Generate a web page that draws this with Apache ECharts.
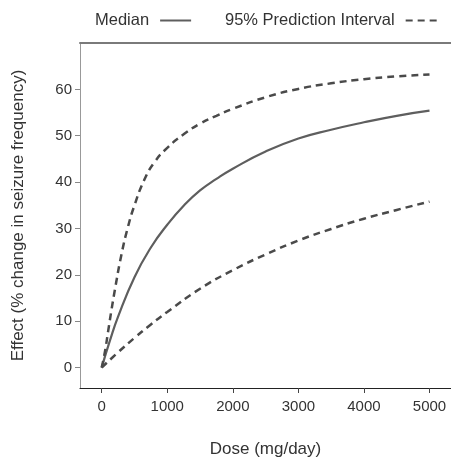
<!DOCTYPE html>
<html>
<head>
<meta charset="utf-8">
<script src="https://cdn.jsdelivr.net/npm/echarts@6/dist/echarts.min.js"></script>
<style>
  html, body { margin: 0; padding: 0; background: #fff; }
  #chart { width: 451px; height: 463px; }
</style>
</head>
<body>
<div id="chart"></div>
<script>
  // values: [dose, effect]
  var medianPts = [
    [0, 0], [125, 5.8], [250, 11.0], [500, 19.5], [750, 25.9], [1000, 30.8],
    [1250, 34.9], [1500, 38.2], [1750, 40.7], [2000, 42.9], [2500, 46.6],
    [3000, 49.4], [3500, 51.3], [4000, 52.9], [4500, 54.3], [5000, 55.4]
  ]
  var upperPts = [
    [0, 0], [50, 3.5], [100, 8.0], [150, 12.5], [200, 16.7], [300, 24.3],
    [400, 30.3], [500, 35.0], [650, 40.5], [800, 44.2], [1000, 47.4],
    [1250, 50.3], [1500, 52.6], [1750, 54.3], [2000, 55.8], [2500, 58.3],
    [3000, 60.1], [3500, 61.3], [4000, 62.2], [4500, 62.8], [5000, 63.2]
  ]
  var lowerPts = [
    [0, 0], [250, 3.3], [500, 6.4], [750, 9.3], [1000, 12.0], [1500, 17.0],
    [2000, 21.0], [2500, 24.4], [3000, 27.4], [3500, 29.9], [4000, 32.1],
    [4500, 34.0], [5000, 35.8]
  ]
  var xTicks = [0, 1000, 2000, 3000, 4000, 5000]
  var yTicks = [0, 10, 20, 30, 40, 50, 60]

  var font = 'Liberation Sans, Arial, sans-serif'
  var lineColor = '#4a4a4a'

  function legendAt(left, name) {
    return {
      orient: 'horizontal',
      top: 12,
      left: left,
      padding: 0,
      align: 'right',
      itemWidth: 31,
      itemHeight: 14,
      itemStyle: { opacity: 0 },
      selectedMode: false,
      data: [name],
      textStyle: { fontSize: 16.5, color: '#333', fontFamily: font, padding: [0, 6, 0, 0] }
    }
  }

  var chart = echarts.init(document.getElementById('chart'))
  var option = {
    animation: false,
    textStyle: { fontFamily: font },
    legend: [legendAt(95, 'Median'), legendAt(225, '95% Prediction Interval')],
    grid: { left: 80, top: 43, right: 0, bottom: 70, containLabel: false },
    xAxis: [{
      type: 'value',
      min: -331,
      max: 5328,
      name: 'Dose (mg/day)',
      nameLocation: 'middle',
      nameGap: 53,
      nameTextStyle: { fontSize: 17, color: '#333' },
      splitLine: { show: false },
      axisLine: { show: true, onZero: false, lineStyle: { color: '#222', width: 1.2 } },
      axisTick: { show: true, length: 5, customValues: xTicks, lineStyle: { color: '#444' } },
      axisLabel: {
        customValues: xTicks, margin: 11, fontSize: 15, color: '#333',
        formatter: function (v) { return String(v) }
      }
    }, {
      type: 'value',
      position: 'top',
      min: -331,
      max: 5328,
      splitLine: { show: false },
      axisLine: { show: true, onZero: false, lineStyle: { color: '#7a7a7a', width: 2 } },
      axisTick: { show: false },
      axisLabel: { show: false }
    }],
    yAxis: {
      type: 'value',
      min: -4.4,
      max: 70,
      name: 'Effect (% change in seizure frequency)',
      nameLocation: 'middle',
      nameGap: 53,
      nameTextStyle: { fontSize: 17, color: '#333' },
      splitLine: { show: false },
      axisLine: { show: true, onZero: false, lineStyle: { color: '#999', width: 1 } },
      axisTick: { show: true, length: 5, customValues: yTicks, lineStyle: { color: '#888' } },
      axisLabel: { customValues: yTicks, margin: 8, fontSize: 15, color: '#333' }
    },
    series: [{
      name: 'Median',
      type: 'line',
      smooth: true,
      symbol: 'none',
      data: medianPts,
      lineStyle: { color: '#5e5e5e', width: 2.2 },
      itemStyle: { color: '#5e5e5e' }
    }, {
      name: '95% Prediction Interval',
      type: 'line',
      smooth: true,
      symbol: 'none',
      data: upperPts,
      lineStyle: { color: lineColor, width: 2.5, type: [7, 5] },
      itemStyle: { color: lineColor }
    }, {
      name: '95% Prediction Interval',
      type: 'line',
      smooth: true,
      symbol: 'none',
      data: lowerPts,
      lineStyle: { color: lineColor, width: 2.5, type: [7, 5] },
      itemStyle: { color: lineColor }
    }]
  }
  chart.setOption(option)
</script>
</body>
</html>
